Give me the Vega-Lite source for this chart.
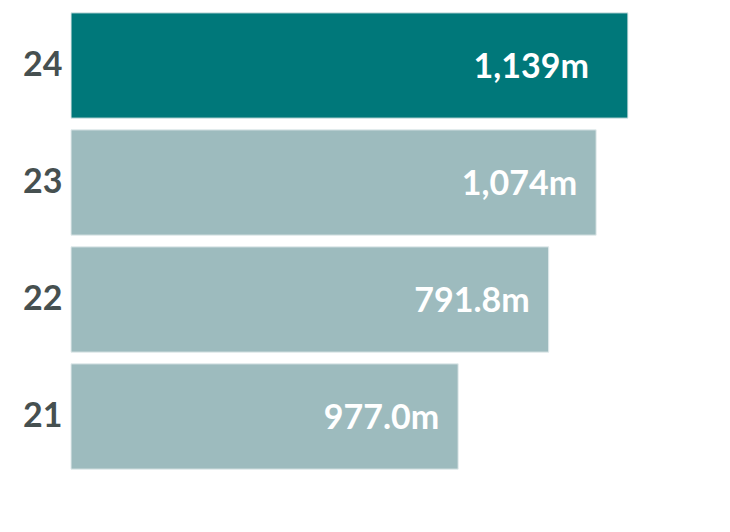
{
  "$schema": "https://vega.github.io/schema/vega-lite/v6.json",
  "width": 620,
  "height": 468,
  "padding": {"left": 5, "top": 7, "right": 5, "bottom": 5},
  "background": "white",
  "data": {
    "values": [
      {"year": "24", "value": 1139, "label": "1,139m", "current": true},
      {"year": "23", "value": 1074, "label": "1,074m", "current": false},
      {"year": "22", "value": 977.0, "label": "791.8m", "current": false},
      {"year": "21", "value": 791.8, "label": "977.0m", "current": false}
    ]
  },
  "encoding": {
    "y": {
      "field": "year",
      "type": "nominal",
      "sort": null,
      "scale": {"paddingInner": 0.1, "paddingOuter": 0.05},
      "axis": {
        "title": null,
        "ticks": false,
        "domain": false,
        "labelFont": "Lato",
        "labelFontSize": 34,
        "labelFontWeight": "bold",
        "labelColor": "#465050",
        "labelPadding": 9,
        "minExtent": 66,
        "maxExtent": 66
      }
    },
    "x": {
      "field": "value",
      "type": "quantitative",
      "scale": {"domain": [0, 1268]},
      "axis": null
    }
  },
  "layer": [
    {
      "mark": {"type": "bar", "stroke": "#e3ebec", "strokeWidth": 1},
      "encoding": {
        "color": {
          "field": "current",
          "type": "nominal",
          "scale": {"domain": [true, false], "range": ["#00787a", "#9dbbbe"]},
          "legend": null
        }
      }
    },
    {
      "transform": [{"filter": "!datum.current"}],
      "mark": {
        "type": "text",
        "align": "right",
        "baseline": "middle",
        "dx": -19,
        "dy": 2,
        "font": "Lato",
        "fontSize": 34,
        "fontWeight": "bold",
        "color": "white"
      },
      "encoding": {"text": {"field": "label"}}
    },
    {
      "transform": [{"filter": "datum.current"}],
      "mark": {
        "type": "text",
        "align": "right",
        "baseline": "middle",
        "dx": -39,
        "dy": 2,
        "font": "Lato",
        "fontSize": 34,
        "fontWeight": "bold",
        "color": "white"
      },
      "encoding": {"text": {"field": "label"}}
    }
  ],
  "config": {"view": {"stroke": null}}
}
